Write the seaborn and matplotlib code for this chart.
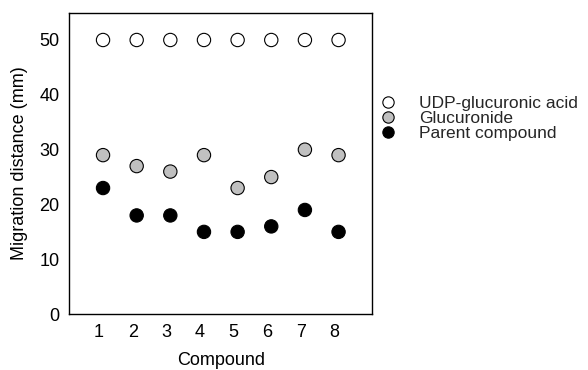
import matplotlib
matplotlib.use("Agg")
import matplotlib.pyplot as plt
import matplotlib.transforms as mtransforms
import seaborn as sns
import pandas as pd

compounds = [1, 2, 3, 4, 5, 6, 7, 8]
udp = [50, 50, 50, 50, 50, 50, 50, 50]
glucuronide = [29, 27, 26, 29, 23, 25, 30, 29]
parent = [23, 18, 18, 15, 15, 16, 19, 15]
series_names = ["UDP-glucuronic acid", "Glucuronide", "Parent compound"]
series_colors = ["white", "#c0c0c0", "black"]

sns.set_theme(style="white")
plt.rcParams['font.family'] = ['Liberation Sans', 'DejaVu Sans']

df = pd.concat([
    pd.DataFrame({"Compound": compounds, "dist": udp, "series": series_names[0]}),
    pd.DataFrame({"Compound": compounds, "dist": glucuronide, "series": series_names[1]}),
    pd.DataFrame({"Compound": compounds, "dist": parent, "series": series_names[2]}),
])

fig = plt.figure(figsize=(5.88, 3.70), dpi=100)
ax = fig.add_axes([0.118, 0.151, 0.515, 0.815])
sns.scatterplot(data=df, x="Compound", y="dist", hue="series", hue_order=series_names,
                palette=dict(zip(series_names, series_colors)), s=92,
                edgecolor="black", linewidth=0.8, ax=ax, zorder=3)

ax.set_xlim(0, 9)
ax.set_ylim(0, 55)
ax.set_xticks(compounds)
ax.set_xticklabels([str(c) for c in compounds])
ax.set_yticks([0, 10, 20, 30, 40, 50])
for s in ax.spines.values():
    s.set_color("black")
    s.set_linewidth(1.0)
ax.tick_params(axis="both", which="both", length=2, width=0.5, color="#bbbbbb",
               labelsize=13, labelcolor="black")
ax.tick_params(axis="y", pad=5)
ax.tick_params(axis="x", pad=5)
shift = mtransforms.ScaledTranslation(-4 / 100, 0, fig.dpi_scale_trans)
for lbl in ax.get_xticklabels():
    lbl.set_transform(lbl.get_transform() + shift)
ax.set_xlabel("Compound", fontsize=13, labelpad=8, color="black")
ax.set_ylabel("Migration distance (mm)", fontsize=13, labelpad=8, color="black")

handles, labels = ax.get_legend_handles_labels()
ax.legend(handles, labels, loc="upper left", bbox_to_anchor=(0.645, 0.742),
          bbox_transform=fig.transFigure, frameon=False, fontsize=12.5,
          labelspacing=0.0, handletextpad=1.3, borderaxespad=0, borderpad=0,
          handlelength=1.0, markerscale=0.85)

fig.savefig("out.png", dpi=100)
